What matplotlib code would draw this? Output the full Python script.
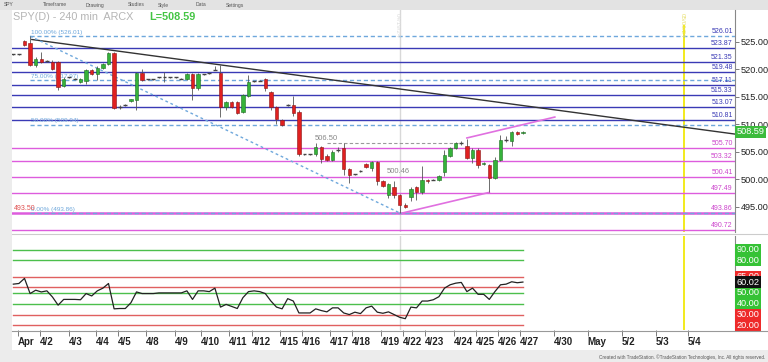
import matplotlib
matplotlib.use('Agg')
import matplotlib.pyplot as plt
from matplotlib.patches import Rectangle

plt.rcParams['font.family'] = ['Liberation Sans', 'DejaVu Sans']

# ---------------- data ----------------
opens = [522.7, 522.7, 525.1, 524.8, 520.7, 521.9, 521.5, 521.4, 521.3, 517.0,
         518.5, 518.3, 517.6, 517.9, 519.9, 519.1, 520.3, 520.9, 523.0, 513.2,
         513.5, 514.2, 514.4, 519.3, 518.2, 518.2, 518.5, 518.5, 518.5, 518.5,
         518.3, 518.2, 519.2, 516.5, 519.1, 519.3, 519.9, 519.4, 513.2, 514.0,
         514.0, 512.3, 515.1, 517.8, 517.9, 518.2, 515.8, 513.2, 510.8, 513.5,
         513.5, 512.3, 504.5, 504.5, 504.5, 505.9, 504.3, 503.5, 505.3, 505.6,
         501.8, 500.9, 501.5, 502.7, 502.1, 503.1, 499.6, 497.2, 498.5, 497.2,
         495.4, 496.7, 498.5, 497.6, 499.9, 499.9, 499.9, 501.4, 504.3, 505.7,
         506.6, 506.0, 503.8, 505.4, 502.7, 502.6, 500.3, 503.5, 507.2, 507.0,
         508.5, 508.4]
highs = [522.8, 522.8, 525.4, 526.01, 522.3, 523.2, 521.6, 521.6, 521.5, 518.5,
         518.6, 518.4, 518.4, 520.1, 520.1, 520.5, 521.2, 523.1, 523.2, 513.5,
         513.6, 514.6, 519.5, 520.0, 518.3, 518.3, 518.6, 519.5, 518.6, 518.6,
         518.4, 519.3, 519.4, 519.4, 519.2, 519.4, 520.6, 520.8, 514.2, 514.2,
         514.2, 515.5, 518.9, 517.9, 518.0, 518.4, 516.0, 513.4, 511.0, 513.6,
         515.1, 512.5, 504.6, 504.6, 506.5, 506.1, 504.5, 505.3, 505.8, 506.5,
         502.0, 501.0, 501.6, 502.9, 503.3, 503.3, 499.8, 499.4, 499.6, 497.4,
         495.6, 498.5, 498.7, 502.4, 500.1, 500.0, 500.8, 505.3, 505.8, 506.7,
         507.0, 507.4, 505.6, 505.6, 503.2, 502.8, 504.0, 508.0, 507.8, 508.8,
         508.7, 508.7]
lows = [522.6, 522.6, 524.2, 520.5, 520.4, 521.1, 521.4, 519.8, 516.2, 516.8,
        518.4, 518.2, 517.5, 517.4, 518.9, 518.0, 520.1, 520.7, 512.7, 512.8,
        513.4, 514.1, 512.5, 517.9, 518.1, 518.1, 518.4, 517.6, 518.4, 518.4,
        518.2, 518.0, 514.4, 516.3, 519.0, 519.2, 519.8, 511.4, 512.5, 513.0,
        511.8, 512.1, 515.0, 517.7, 517.8, 516.0, 512.5, 510.0, 509.7, 513.4,
        511.5, 504.2, 504.4, 504.4, 504.3, 502.9, 503.3, 503.3, 505.0, 500.8,
        499.3, 500.8, 501.4, 502.1, 501.5, 499.0, 498.5, 496.6, 496.5, 493.86,
        494.8, 496.0, 496.3, 497.4, 499.4, 499.8, 499.7, 500.5, 504.1, 505.5,
        506.2, 503.6, 503.0, 502.0, 502.5, 497.6, 500.1, 503.3, 506.8, 506.0,
        508.0, 508.3]
closes = [522.7, 522.7, 524.4, 520.7, 521.9, 521.3, 521.5, 520.0, 516.7, 518.3,
          518.5, 518.3, 518.3, 519.9, 519.1, 520.3, 521.0, 522.9, 512.9, 513.2,
          513.5, 514.5, 519.3, 518.0, 518.2, 518.2, 518.5, 518.5, 518.5, 518.5,
          518.3, 519.1, 516.5, 519.2, 519.1, 519.3, 519.9, 513.1, 514.0, 513.2,
          512.0, 515.3, 517.7, 517.8, 517.9, 516.6, 513.2, 510.9, 509.9, 513.5,
          512.1, 504.6, 504.5, 504.5, 505.9, 503.7, 503.5, 505.0, 505.3, 501.8,
          500.8, 500.9, 501.5, 502.3, 503.1, 499.6, 498.8, 499.2, 497.2, 495.3,
          495.0, 498.3, 497.6, 499.9, 499.6, 499.9, 500.6, 504.4, 505.6, 506.5,
          506.6, 503.8, 505.4, 502.6, 503.0, 500.3, 503.5, 507.1, 507.2, 508.5,
          508.2, 508.59]

osc = [58.1, 58.7, 63.4, 49.4, 52.5, 50.9, 51.9, 46.2, 38.7, 44.0,
       44.0, 44.0, 43.7, 49.4, 47.2, 51.9, 54.4, 58.7, 35.3, 35.6,
       35.6, 40.9, 50.9, 49.4, 49.4, 49.4, 50.0, 50.0, 50.0, 50.0,
       50.0, 51.9, 44.0, 51.9, 51.9, 51.2, 54.4, 36.9, 39.4, 37.5,
       35.6, 45.6, 51.2, 51.9, 51.2, 49.4, 42.5, 36.9, 35.3, 44.7,
       42.5, 31.5, 31.5, 31.5, 35.3, 33.7, 32.5, 36.2, 36.2, 31.5,
       30.0, 32.2, 30.9, 36.2, 37.8, 32.2, 31.2, 32.5, 30.0, 27.5,
       26.2, 36.9, 36.2, 42.5, 42.5, 43.7, 46.5, 54.4, 57.5, 59.0,
       59.7, 51.2, 54.4, 48.7, 48.7, 44.0, 51.2, 57.5, 58.1, 60.3,
       59.4, 60.02]

tick_pos = [0.84, 4.77, 9.86, 14.68, 18.7, 23.7, 28.8, 33.5, 38.5, 42.6,
            47.6, 51.6, 56.6, 60.5, 65.7, 69.6, 73.5, 78.7, 82.6, 86.6,
            90.5, 96.5, 102.6, 108.7, 114.8, 120.5]
tick_labels = ['Apr', '4/2', '4/3', '4/4', '4/5', '4/8', '4/9', '4/10', '4/11', '4/12',
               '4/15', '4/16', '4/17', '4/18', '4/19', '4/22', '4/23', '4/24', '4/25', '4/26',
               '4/27', '4/30', 'May', '5/2', '5/3', '5/4']

price_ticks = [495, 500, 505, 510, 515, 520, 525]
blue_levels = [526.01, 523.87, 521.35, 519.48, 517.11, 515.33, 513.07, 510.81]
magenta_levels = [505.70, 503.32, 500.41, 497.49, 493.86, 490.72]
fib_levels = [526.01, 517.97, 509.94, 493.86]
fib_names = ['100.00%', '75.00%', '50.00%', '0.00%']

osc_green = [90, 80, 50, 40]
osc_red = [65, 55, 30, 20]
osc_labels = [90, 80, 65, 55, 50, 40, 30, 20]

trend_x = [3.3, 128.9]
trend_y = [525.4, 508.2]
fib_diag_x = [3.0, 69.0]
fib_diag_y = [526.01, 493.86]
chan_low_x = [69.5, 85.0]
chan_low_y = [493.86, 497.6]
chan_up_x = [81.0, 96.7]
chan_up_y = [507.5, 511.3]
swing_hi = 506.50
swing_hi_x = [56.0, 80.0]
swing_lo = 500.46
last_price = 508.59
last_osc = 60.02
low_mark = 493.50
vline_gray = 69.1
vline_yellow = 119.8

# ---------------- layout ----------------
W, H = 768, 362
fig = plt.figure(figsize=(W / 100, H / 100), dpi=100)
fig.patch.set_facecolor('white')

def fx(px):
    return px / W

def fy(py):
    return 1 - py / H

# toolbars
fig.add_artist(Rectangle((0, fy(9.5)), 1, 9.5 / H, transform=fig.transFigure,
                         facecolor='#e3e3e3', edgecolor='none', zorder=0))
fig.add_artist(Rectangle((0, fy(350)), fx(12), (350 - 9.5) / H, transform=fig.transFigure,
                         facecolor='#ececec', edgecolor='none', zorder=0))
fig.add_artist(Rectangle((0, 0), 1, 12 / H, transform=fig.transFigure,
                         facecolor='#ececec', edgecolor='none', zorder=0))
for lbl, px in [('SPY', 4), ('Timeframe', 43), ('Drawing', 86), ('Studies', 128),
                ('Style', 158), ('Data', 196), ('Settings', 226)]:
    fig.text(fx(px), fy(5), lbl, fontsize=3.6, color='#555555', va='center', ha='left')
fig.text(fx(765), fy(357), 'Created with TradeStation. \u00a9TradeStation Technologies, Inc. All rights reserved.',
         fontsize=3.3, color='#555555', ha='right', va='center')

x0_px, x1_px = 12, 735
xmin = (x0_px - 13.3) / 5.6
xmax = (x1_px - 13.3) / 5.6

ax = fig.add_axes([fx(x0_px), fy(232), fx(x1_px) - fx(x0_px), fy(10) - fy(232)])
ax2 = fig.add_axes([fx(x0_px), fy(330), fx(x1_px) - fx(x0_px), fy(236) - fy(330)])

ax.set_xlim(xmin, xmax)
ax2.set_xlim(xmin, xmax)
ax.set_ylim(525 - (232 - 41.7) / 5.5, 525 + (41.7 - 10) / 5.5)
ax2.set_ylim(20 - (330 - 325.4) / 1.083, 90 + (249.6 - 236) / 1.083)

for a in (ax, ax2):
    for s in ['left', 'top', 'bottom']:
        a.spines[s].set_visible(False)
    a.spines['right'].set_color('#888888')
    a.spines['right'].set_linewidth(0.8)
    a.set_facecolor('white')

# ---- main panel levels ----
for lv in blue_levels:
    if lv in fib_levels:
        continue
    ax.axhline(lv, color='#3a3ab5', lw=1.0, zorder=2)
for lv in magenta_levels:
    ax.axhline(lv, color='#dd5cdd', lw=1.8 if lv == 493.86 else 1.0, zorder=2)
for lv in fib_levels:
    ax.plot([fib_diag_x[0], xmax], [lv, lv], color='#6fa8dc', lw=1.0, ls=(0, (3, 2)), zorder=3)
for lv, nm in zip(fib_levels, fib_names):
    ax.text(fib_diag_x[0] + 0.2, lv + 0.2, '%s (%.2f)' % (nm, lv), fontsize=4.6,
            color='#6fa8dc', ha='left', va='bottom', zorder=6)
ax.text(xmin + 0.3, low_mark + 0.45, '%.2f' % low_mark, fontsize=5, color='#e05050',
        ha='left', va='bottom', zorder=6)

# right side level labels
for lv in blue_levels:
    ax.text(xmax - 0.4, lv + 0.15, '%.2f' % lv, fontsize=5, color='#3a3ab5',
            ha='right', va='bottom', zorder=6)
for lv in magenta_levels:
    ax.text(xmax - 0.4, lv + 0.15, '%.2f' % lv, fontsize=5, color='#cc44cc',
            ha='right', va='bottom', zorder=6)

# vertical lines
ax.axvline(vline_gray, color='#d8d8d8', lw=1.0, zorder=1)
ax2.axvline(vline_gray, color='#d8d8d8', lw=1.0, zorder=1)
ax.axvline(vline_yellow, color='#f2ea1c', lw=1.4, ymax=0.93, zorder=1)
ax2.axvline(vline_yellow, color='#f2ea1c', lw=1.4, zorder=1)
ax.text(vline_gray - 0.6, 530.2, '04/19/24', rotation=-90, fontsize=4.5,
        color='#dddddd', ha='center', va='top')
ax.text(vline_yellow - 0.4, 530.2, '05/03/24', rotation=-90, fontsize=4.5,
        color='#e8e070', ha='center', va='top')

# trend lines
ax.plot(trend_x, trend_y, color='#333333', lw=1.0, zorder=4)
ax.plot(fib_diag_x, fib_diag_y, color='#6fa8dc', lw=1.0, ls=(0, (2, 2)), zorder=4)
ax.plot(chan_low_x, chan_low_y, color='#e070e0', lw=1.2, zorder=4)
ax.plot(chan_up_x, chan_up_y, color='#e070e0', lw=1.2, zorder=4)
ax.plot(swing_hi_x, [swing_hi, swing_hi], color='#999999', lw=0.8, ls=(0, (3, 2)), zorder=3)
ax.text(53.9, swing_hi + 0.35, '%.2f' % swing_hi, fontsize=5.5, color='#888888', ha='left', va='bottom')
ax.text(66.7, swing_lo + 0.35, '%.2f' % swing_lo, fontsize=5.5, color='#888888', ha='left', va='bottom')

# candles
up_c, dn_c = '#35b23a', '#e02020'
for i, (o, h, l, c) in enumerate(zip(opens, highs, lows, closes)):
    ax.vlines(i, l, h, color='#555555', lw=0.6, zorder=5)
    if abs(c - o) < 0.05:
        ax.hlines(c, i - 0.35, i + 0.35, color='#444444', lw=1.0, zorder=6)
    else:
        col = up_c if c > o else dn_c
        edge = '#1f6e22' if c > o else '#8a1515'
        ax.bar(i, abs(c - o), bottom=min(o, c), width=0.62, color=col,
               edgecolor=edge, linewidth=0.4, zorder=6)

# price axis
ax.yaxis.tick_right()
ax.set_yticks(price_ticks)
ax.set_yticklabels(['%.2f' % p for p in price_ticks])
ax.tick_params(axis='y', length=3, width=0.6, color='#666666', labelsize=6.6,
               labelcolor='#222222', pad=1.2)
ax.set_xticks([])
ax.text(1.002, last_price, '%.2f' % last_price, transform=ax.get_yaxis_transform(),
        fontsize=6.6, color='white', ha='left', va='center', zorder=10,
        bbox=dict(boxstyle='square,pad=0.2', facecolor='#3cbb3c', edgecolor='none'))

# title
fig.text(fx(13), fy(17), 'SPY(D) - 240 min  ARCX', fontsize=7.8, color='#b5b5b5',
         ha='left', va='center')
fig.text(fx(149), fy(17), 'L=%.2f' % last_price, fontsize=7.8, color='#44c544',
         fontweight='bold', ha='left', va='center')

# ---- oscillator ----
n = len(osc)
for lv in osc_green:
    ax2.plot([0, n - 1], [lv, lv], color='#4cbf4c', lw=1.0, zorder=2)
for lv in osc_red:
    ax2.plot([0, n - 1], [lv, lv], color='#e06060', lw=1.0, zorder=2)
ax2.plot(range(n), osc, color='#222222', lw=0.9, zorder=4)

ax2.yaxis.tick_right()
ax2.set_yticks([])
ytr = ax2.get_yaxis_transform()
for lv in osc_labels:
    col = '#35c235' if lv in osc_green else '#ee2a2a'
    ax2.text(1.002, lv, '%.2f' % lv, transform=ytr, fontsize=6.6, color='white',
             ha='left', va='center', zorder=10,
             bbox=dict(boxstyle='square,pad=0.15', facecolor=col, edgecolor='none'))
ax2.text(1.002, last_osc, '%.2f' % last_osc, transform=ytr, fontsize=6.6, color='white',
         ha='left', va='center', zorder=11,
         bbox=dict(boxstyle='square,pad=0.15', facecolor='#111111', edgecolor='none'))

ax2.set_xticks(tick_pos)
ax2.set_xticklabels(tick_labels)
ax2.tick_params(axis='x', length=4, width=0.6, color='#666666', labelsize=7,
                labelcolor='#222222', pad=1)
for t in ax2.get_xticklabels():
    t.set_ha('left')
    t.set_fontweight('bold')

# separator lines between panels
fig.add_artist(plt.Line2D([fx(12), fx(768)], [fy(234), fy(234)], color='#cccccc', lw=0.8))
fig.add_artist(plt.Line2D([fx(12), fx(768)], [fy(331), fy(331)], color='#999999', lw=0.8))

fig.savefig('out.png', dpi=100)
